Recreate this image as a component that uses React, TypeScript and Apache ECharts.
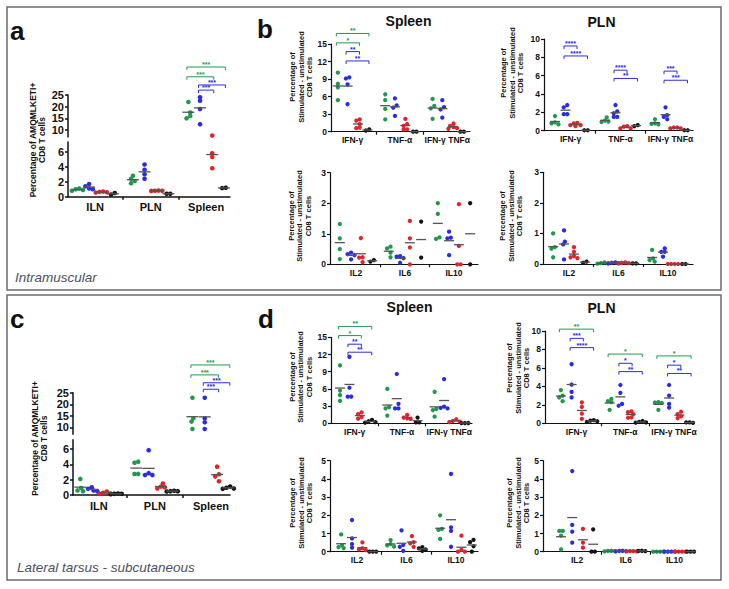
import { useEffect, useRef } from "react";
import * as echarts from "echarts";

const FONT = "'Liberation Sans', Arial, Helvetica, sans-serif";
const GROUP_COLORS = ["#1f9a4d", "#2b2be3", "#e3232b", "#141414"];
const MEAN_COLOR = "#555555";

// ---------- categories ----------
const nodeCategories = ["ILN", "PLN", "Spleen"];
const cytokineCategories = ["IFN-γ", "TNF-α", "IFN-γ TNFα"];
const interleukinCategories = ["IL2", "IL6", "IL10"];

// ---------- tick labels ----------
const brokenLowerTicks = [0, 2, 4, 6];
const brokenUpperTicks = [10, 15, 20, 25];
const ticks15 = [0, 3, 6, 9, 12, 15];
const ticks10 = [0, 2, 4, 6, 8, 10];
const ticks3 = [0, 1, 2, 3];
const ticks5 = [0, 1, 2, 3, 4, 5];

// ---------- data: [category][group: green, blue, red, black] ----------
const aValues = [
  [[0.8, 1.0, 1.1, 0.9], [1.7, 1.4, 1.1, 1.0], [0.65, 0.55, 0.6, 0.7], [0.3, 0.5]],
  [[2.8, 2.4, 2.1, 1.8], [4.3, 3.6, 3.0, 2.4], [0.8, 0.82, 0.78, 0.8], [0.4, 0.4]],
  [[22, 17.5, 16, 15], [24, 22.5, 19, 12.5], [7.6, 5.8, 5.3, 3.8], [1.15, 1.2]],
];
const cValues = [
  [[2.1, 0.9, 0.6, 0.5], [1.0, 0.8, 0.6, 0.5], [0.45, 0.3, 0.2, 0.15], [0.2, 0.15, 0.15, 0.1]],
  [[4.35, 4.2, 2.75, 2.75], [5.85, 2.85, 2.6, 2.6], [1.5, 1.1, 1.0, 0.85], [0.55, 0.5, 0.5, 0.45]],
  [[22.8, 13.9, 12.5, 9.3], [22.8, 13.9, 12.2, 9.3], [3.7, 2.7, 2.4, 1.8], [1.1, 0.95, 0.85, 0.8]],
];
const bSpleenTop = [
  [[10.1, 8.2, 7.6, 5.4], [9.3, 9.1, 8.1, 4.7], [2.1, 1.9, 1.3, 0.7, 0.6], [0.2, 0.4]],
  [[6.4, 5.4, 3.9, 2.1], [5.7, 4.5, 4.1, 2.7], [2.2, 1.3, 1.0, 0.4, 0.4], [0, 0]],
  [[5.6, 4.4, 4.0, 2.2], [5.4, 4.2, 3.8, 2.4], [1.4, 1.0, 0.8, 0.6, 0.5], [0, 0]],
];
const bSpleenBottom = [
  [[1.32, 0.85, 0.5, 0.17], [0.38, 0.33, 0.3, 0.16], [0.86, 0.23, 0.22, 0.07], [0.09, 0.14]],
  [[0.58, 0.52, 0.38, 0.23], [0.27, 0.25, 0.2, 0.05], [1.42, 0.85, 0.55, 0], [1.4, 0.22]],
  [[2.0, 1.65, 0.88, 0.83], [1.07, 0.87, 0.85, 0.3], [1.97, 0.6, 0, 0], [2.0, 0]],
];
const bPlnTop = [
  [[1.6, 0.9, 0.8, 0.7], [2.8, 2.55, 1.8, 1.8], [0.85, 0.8, 0.6, 0.6, 0.5], [0.05, 0.05]],
  [[1.45, 1.1, 1.0, 0.95], [2.8, 2.1, 1.9, 1.5, 1.5], [0.5, 0.45, 0.25, 0.25], [0.5, 0.6]],
  [[1.25, 0.8, 0.75, 0.7], [2.55, 1.7, 1.5, 1.25], [0.35, 0.35, 0.25, 0.25], [0.05, 0.05]],
];
const bPlnBottom = [
  [[1.0, 0.55, 0.5, 0.22], [1.1, 0.73, 0.64, 0.15], [0.55, 0.4, 0.26, 0.22, 0.19], [0.04, 0.08]],
  [[0.02, 0.01, 0.03, 0.05], [0.02, 0.05, 0.03, 0.04], [0.02, 0.05, 0.03, 0.04], [0.02, 0.02]],
  [[0.46, 0.18, 0.13, 0.08], [0.51, 0.4, 0.4, 0.24], [0, 0, 0, 0], [0, 0]],
];
const dSpleenTop = [
  [[10.1, 5.7, 4.9, 3.9], [11.6, 6.2, 4.65, 4.65], [1.9, 1.6, 1.1, 0.8], [0.6, 0.35, 0.2, 0.1]],
  [[6.0, 2.8, 2.6, 1.35], [8.6, 3.4, 2.6, 2.6], [1.45, 1.0, 0.87, 0.76], [1.0, 0.17, 0.17]],
  [[5.5, 2.5, 2.3, 1.16], [7.7, 2.9, 2.7, 2.6], [0.7, 0.4, 0.3, 0.2], [0.05, 0.05, 0.05]],
];
const dSpleenBottom = [
  [[0.95, 0.35, 0.25, 0.2], [1.74, 0.73, 0.42, 0.22], [0.51, 0.18, 0.13, 0.09], [0, 0, 0]],
  [[0.64, 0.42, 0.35, 0.28], [1.17, 0.37, 0.27, 0.04], [0.86, 0.53, 0.46, 0.27], [0.25, 0.18, 0.12, 0.05]],
  [[2.0, 1.25, 1.2, 0.7], [4.27, 1.34, 1.15, 0.27], [0.88, 0.1, 0, 0], [0.65, 0.52, 0.3, 0]],
];
const dPlnTop = [
  [[3.6, 3.0, 2.8, 2.4], [6.4, 4.2, 3.4, 2.8], [2.27, 1.77, 1.05, 0.47], [0.35, 0.28, 0.22, 0.15]],
  [[2.65, 2.4, 2.3, 1.45], [4.15, 3.3, 2.1, 1.9], [1.3, 1.2, 1.0, 0.65, 0.6], [0.25, 0.15, 0.1, 0.08]],
  [[2.3, 2.25, 2.2, 1.45], [4.15, 3.0, 2.1, 1.7], [1.25, 1.0, 0.75, 0.55], [0.1, 0.1, 0.05]],
];
const dPlnBottom = [
  [[1.14, 1.14, 0.88, 0.13], [4.43, 1.47, 1.1, 0.5], [1.25, 0.5, 0.22], [1.23, 0, 0]],
  [[0.03, 0.04, 0.02, 0.05], [0.02, 0.04, 0.05, 0.03], [0.02, 0.03, 0.02, 0.03], [0.04, 0.03, 0.05]],
  [[0, 0, 0, 0], [0, 0, 0, 0], [0, 0, 0, 0], [0, 0, 0]],
];

// ---------- significance brackets: [category, fromGroup, toGroup, level, label] ----------
type Bracket = [number, number, number, number, string];
const aBrackets: Bracket[] = [[2, 0, 3, 37, "***"], [2, 0, 2, 32.8, "***"], [2, 1, 3, 29.3, "***"], [2, 1, 2, 27.1, "***"]];
const cBrackets: Bracket[] = [[2, 0, 3, 37, "***"], [2, 0, 2, 32.7, "***"], [2, 1, 3, 29.3, "***"], [2, 1, 2, 26.5, "***"]];
const bSpleenBrackets: Bracket[] = [[0, 0, 3, 16.8, "**"], [0, 0, 2, 15.2, "*"], [0, 1, 2, 13.7, "**"], [0, 1, 3, 12.1, "**"]];
const bPlnBrackets: Bracket[] = [
  [0, 1, 2, 9.24, "****"], [0, 1, 3, 8.15, "****"],
  [1, 1, 2, 6.6, "****"], [1, 1, 3, 5.7, "**"],
  [2, 1, 2, 6.5, "***"], [2, 1, 3, 5.5, "***"],
];
const dSpleenBrackets: Bracket[] = [[0, 0, 3, 16.9, "**"], [0, 0, 2, 15.3, "*"], [0, 1, 2, 13.8, "**"], [0, 1, 3, 12.4, "**"]];
const dPlnBrackets: Bracket[] = [
  [0, 0, 3, 10.2, "**"], [0, 1, 2, 9.2, "***"], [0, 1, 3, 8.2, "****"],
  [1, 0, 3, 7.5, "*"], [1, 1, 2, 6.5, "*"], [1, 1, 3, 5.6, "**"],
  [2, 0, 3, 7.3, "*"], [2, 1, 2, 6.3, "*"], [2, 1, 3, 5.4, "**"],
];

// ---------- layout ----------
type Plot = {
  data: number[][][];
  cats: string[];
  left: number; top: number; width: number; height: number;
  xMin: number; xMax: number; yMin: number; yMax: number; ticks: number[];
  offsets: number[];
  dot: number; meanW: number; font: number; labelMargin: number; axisW: number;
  showX: boolean; lo?: number; hi?: number;
  brackets?: Bracket[];
};

const big = { dot: 4.6, meanW: 12, font: 11, labelMargin: 5, axisW: 1.5 };
const small = { dot: 4.3, meanW: 10, font: 8.5, labelMargin: 4, axisW: 1.2 };

const PLOTS: Plot[] = [
  { ...big, data: aValues, cats: nodeCategories, left: 68, top: 142, width: 162, height: 54.75, xMin: -0.49, xMax: 2.43, yMin: 0, yMax: 7.3, ticks: brokenLowerTicks, offsets: [-0.32, -0.11, 0.11, 0.32], showX: true, hi: 7.3 },
  { ...big, data: aValues, cats: nodeCategories, left: 68, top: 95, width: 162, height: 42, xMin: -0.49, xMax: 2.43, yMin: 7, yMax: 25, ticks: brokenUpperTicks, offsets: [-0.32, -0.11, 0.11, 0.32], showX: false, lo: 7.3, brackets: aBrackets },
  { ...big, data: cValues, cats: nodeCategories, left: 73, top: 439.8, width: 157, height: 55.2, xMin: -0.46, xMax: 2.34, yMin: 0, yMax: 7.2, ticks: brokenLowerTicks, offsets: [-0.33, -0.11, 0.11, 0.31], showX: true, hi: 7.2 },
  { ...big, data: cValues, cats: nodeCategories, left: 73, top: 392.7, width: 157, height: 41.6, xMin: -0.46, xMax: 2.34, yMin: 7, yMax: 25, ticks: brokenUpperTicks, offsets: [-0.33, -0.11, 0.11, 0.31], showX: false, lo: 7.2, brackets: cBrackets },
  { ...small, data: bSpleenTop, cats: cytokineCategories, left: 331, top: 44, width: 139, height: 87.7, xMin: -0.455, xMax: 2.48, yMin: 0, yMax: 15, ticks: ticks15, offsets: [-0.31, -0.105, 0.115, 0.315], showX: true, brackets: bSpleenBrackets },
  { ...small, data: bSpleenBottom, cats: interleukinCategories, left: 330, top: 172.7, width: 148, height: 91.6, xMin: -0.53, xMax: 2.49, yMin: 0, yMax: 3, ticks: ticks3, offsets: [-0.33, -0.1, 0.1, 0.33], showX: true },
  { ...small, data: bPlnTop, cats: cytokineCategories, left: 544, top: 39, width: 149, height: 91.7, xMin: -0.53, xMax: 2.45, yMin: 0, yMax: 10, ticks: ticks10, offsets: [-0.31, -0.1, 0.1, 0.31], showX: true, brackets: bPlnBrackets },
  { ...small, data: bPlnBottom, cats: interleukinCategories, left: 543, top: 172.3, width: 150, height: 91.7, xMin: -0.525, xMax: 2.505, yMin: 0, yMax: 3, ticks: ticks3, offsets: [-0.32, -0.1, 0.1, 0.32], showX: true },
  { ...small, data: dSpleenTop, cats: cytokineCategories, left: 331, top: 337.3, width: 141, height: 86, xMin: -0.5, xMax: 2.48, yMin: 0, yMax: 15, ticks: ticks15, offsets: [-0.31, -0.11, 0.11, 0.33], showX: true, brackets: dSpleenBrackets },
  { ...small, data: dSpleenBottom, cats: interleukinCategories, left: 330, top: 460.7, width: 148, height: 91, xMin: -0.545, xMax: 2.445, yMin: 0, yMax: 5, ticks: ticks5, offsets: [-0.32, -0.1, 0.11, 0.32], showX: true },
  { ...small, data: dPlnTop, cats: cytokineCategories, left: 545, top: 331, width: 148, height: 92.3, xMin: -0.646, xMax: 2.39, yMin: 0, yMax: 10, ticks: ticks10, offsets: [-0.32, -0.1, 0.11, 0.32], showX: true, brackets: dPlnBrackets },
  { ...small, data: dPlnBottom, cats: interleukinCategories, left: 543, top: 460.7, width: 150, height: 91, xMin: -0.7, xMax: 2.38, yMin: 0, yMax: 5, ticks: ticks5, offsets: [-0.33, -0.1, 0.12, 0.33], showX: true },
];

function mean(a: number[]) {
  return a.reduce((s, v) => s + v, 0) / a.length;
}

// simple beeswarm: returns horizontal pixel offsets
function swarmOffsets(vals: number[], pxY: number, size: number): number[] {
  const order = vals.map((_, i) => i).sort((a, b) => vals[b] - vals[a]);
  const xs = new Array(vals.length).fill(0);
  const ys = vals.map((v) => -v * pxY);
  const placed: number[] = [];
  const h = size * 0.4;
  const minD = size * 0.75;
  for (const i of order) {
    for (let k = 0; k < 14; k++) {
      const cand = k === 0 ? 0 : (k % 2 === 1 ? -1 : 1) * Math.ceil(k / 2) * h;
      if (placed.every((j) => Math.hypot(xs[j] - cand, ys[j] - ys[i]) >= minD)) {
        xs[i] = cand;
        break;
      }
    }
    placed.push(i);
  }
  let start = 0;
  for (let k = 1; k <= order.length; k++) {
    if (k === order.length || Math.abs(ys[order[k]] - ys[order[k - 1]]) >= size * 1.1) {
      const members = order.slice(start, k);
      const mn = Math.min(...members.map((m) => xs[m]));
      const mx = Math.max(...members.map((m) => xs[m]));
      const shift = -(mn + mx) / 2;
      members.forEach((m) => (xs[m] += shift));
      start = k;
    }
  }
  return xs;
}

function addPlot(opt: any, p: Plot) {
  const gi = opt.grid.length;
  const lo = p.lo ?? -Infinity;
  const hi = p.hi ?? Infinity;
  const keep = (v: number) => v > lo && v <= hi;
  const pxX = p.width / (p.xMax - p.xMin);
  const pxY = p.height / (p.yMax - p.yMin);
  const line = { color: "#111", width: p.axisW };
  opt.grid.push({ left: p.left, top: p.top, width: p.width, height: p.height, containLabel: false, outerBoundsMode: "none" });
  const catTicks = p.cats.map((_, i) => i);
  const between = p.cats.slice(1).map((_, i) => i + 0.5);
  opt.xAxis.push({
    gridIndex: gi, type: "value", min: p.xMin, max: p.xMax, show: p.showX,
    axisLine: { show: true, onZero: false, lineStyle: line },
    axisTick: { show: true, customValues: between, length: 3, lineStyle: line },
    axisLabel: {
      show: true, customValues: catTicks,
      formatter: (v: number) => p.cats[Math.round(v)] ?? "",
      fontSize: p.font, fontWeight: "bold", color: "#111", margin: p.labelMargin, fontFamily: FONT,
    },
    splitLine: { show: false },
  });
  opt.yAxis.push({
    gridIndex: gi, type: "value", min: p.yMin, max: p.yMax,
    axisLine: { show: true, onZero: false, lineStyle: line },
    axisTick: { show: true, customValues: p.ticks, length: 3, lineStyle: line },
    axisLabel: { show: true, customValues: p.ticks, fontSize: p.font, fontWeight: "bold", color: "#111", margin: 4, fontFamily: FONT },
    splitLine: { show: false },
  });
  const dots: any[] = [];
  const means: any[] = [];
  p.data.forEach((groups, ci) => {
    groups.forEach((vals, g) => {
      const kept = vals.filter(keep);
      const offs = swarmOffsets(kept, pxY, p.dot);
      kept.forEach((v, k) =>
        dots.push({ value: [ci + p.offsets[g] + offs[k] / pxX, v], itemStyle: { color: GROUP_COLORS[g], opacity: 1 } })
      );
      const m = mean(vals);
      if (keep(m)) means.push([ci + p.offsets[g], m]);
    });
  });
  opt.series.push({
    type: "scatter", xAxisIndex: gi, yAxisIndex: gi, data: dots, symbol: "circle",
    symbolSize: p.dot, clip: false, silent: true, z: 3, itemStyle: { opacity: 1 },
  });
  opt.series.push({
    type: "scatter", xAxisIndex: gi, yAxisIndex: gi, data: means, symbol: "rect",
    symbolSize: [p.meanW, 1.3], itemStyle: { color: MEAN_COLOR, opacity: 1 }, clip: false, silent: true, z: 4,
  });
  if (p.brackets) {
    const list = p.brackets;
    const pad = 1.5 / pxX;
    opt.series.push({
      type: "custom", xAxisIndex: gi, yAxisIndex: gi, clip: false, silent: true, z: 5,
      dimensions: ["x1", "x2", "y"],
      encode: { x: [0, 1], y: 2 },
      data: list.map((b) => [b[0] + p.offsets[b[1]] - pad, b[0] + p.offsets[b[2]] + pad, b[3]]),
      renderItem: (params: any, api: any) => {
        const b = list[params.dataIndex];
        const color = GROUP_COLORS[b[1]];
        const p1 = api.coord([api.value(0), api.value(2)]);
        const p2 = api.coord([api.value(1), api.value(2)]);
        return {
          type: "group",
          children: [
            {
              type: "polyline",
              shape: { points: [[p1[0], p1[1] + 3], [p1[0], p1[1]], [p2[0], p2[1]], [p2[0], p2[1] + 3]] },
              style: { stroke: color, fill: "none", lineWidth: 1 },
            },
            {
              type: "text",
              x: (p1[0] + p2[0]) / 2,
              y: p1[1] - 2.5,
              style: {
                text: b[4], fill: color, fontSize: 7, fontWeight: "bold", fontFamily: FONT,
                align: "center", verticalAlign: "middle", textAlign: "center", textVerticalAlign: "middle",
              },
            },
          ],
        };
      },
    });
  }
}

function txt(text: string, x: number, y: number, size: number, o: any = {}) {
  return {
    type: "text", x, y, rotation: o.rot || 0, silent: true, z: 10,
    style: {
      text, fill: o.color || "#111", fontSize: size, fontWeight: o.weight || "bold",
      fontStyle: o.italic ? "italic" : "normal", fontFamily: FONT,
      align: o.align || "center", textAlign: o.align || "center",
      verticalAlign: "middle", textVerticalAlign: "middle",
      lineHeight: o.lh || Math.round(size * 1.15),
    },
  };
}

const SUB_TITLE = "Percentage of\nStimulated - unstimulated\nCD8 T cells";
const NODE_TITLE = "Percentage of AMQMLKETI+\nCD8 T cells";
const ROT = Math.PI / 2;

function buildGraphics() {
  const sub = { rot: ROT, lh: 8.5 };
  const g: any[] = [
    { type: "rect", silent: true, shape: { x: 7, y: 7, width: 714, height: 283 }, style: { fill: "none", stroke: "#6b6b6b", lineWidth: 1.5 } },
    { type: "rect", silent: true, shape: { x: 7, y: 295, width: 714, height: 285 }, style: { fill: "none", stroke: "#6b6b6b", lineWidth: 1.5 } },
    txt("a", 10, 31, 26, { align: "left" }),
    txt("b", 257, 29, 26, { align: "left" }),
    txt("c", 10, 319, 26, { align: "left" }),
    txt("d", 258, 319, 26, { align: "left" }),
    txt("Spleen", 408.5, 21, 14),
    txt("PLN", 601.5, 22, 14),
    txt("Spleen", 409.5, 307, 14),
    txt("PLN", 601.5, 308, 14),
    txt("Intramuscular", 15, 277, 13.5, { align: "left", italic: true, weight: "normal", color: "#4b5060" }),
    txt("Lateral tarsus - subcutaneous", 17, 567.5, 13.5, { align: "left", italic: true, weight: "normal", color: "#4b5060" }),
    txt(NODE_TITLE, 37.5, 140, 8.5, { rot: ROT, lh: 9 }),
    txt(NODE_TITLE, 39.5, 438.5, 8.5, { rot: ROT, lh: 9 }),
    txt(SUB_TITLE, 301, 77, 7.5, sub),
    txt(SUB_TITLE, 299.5, 216, 7.5, sub),
    txt(SUB_TITLE, 512, 73, 7.5, sub),
    txt(SUB_TITLE, 511, 216, 7.5, sub),
    txt(SUB_TITLE, 300.5, 377, 7.5, sub),
    txt(SUB_TITLE, 301, 503, 7.5, sub),
    txt(SUB_TITLE, 518, 368, 7.5, sub),
    txt(SUB_TITLE, 518, 503, 7.5, sub),
  ];
  return g;
}

function buildOption() {
  const opt: any = {
    animation: false,
    backgroundColor: "#ffffff",
    textStyle: { fontFamily: FONT },
    grid: [], xAxis: [], yAxis: [], series: [],
  };
  PLOTS.forEach((p) => addPlot(opt, p));
  opt.graphic = buildGraphics();
  return opt;
}

export default function App() {
  const ref = useRef<HTMLDivElement>(null);
  useEffect(() => {
    if (!ref.current) return;
    const chart = echarts.init(ref.current, undefined, { renderer: "svg" });
    chart.setOption(buildOption());
    return () => chart.dispose();
  }, []);
  return (
    <div
      ref={ref}
      style={{ position: "fixed", left: 0, top: 0, width: 729, height: 589, background: "#fff" }}
    />
  );
}
